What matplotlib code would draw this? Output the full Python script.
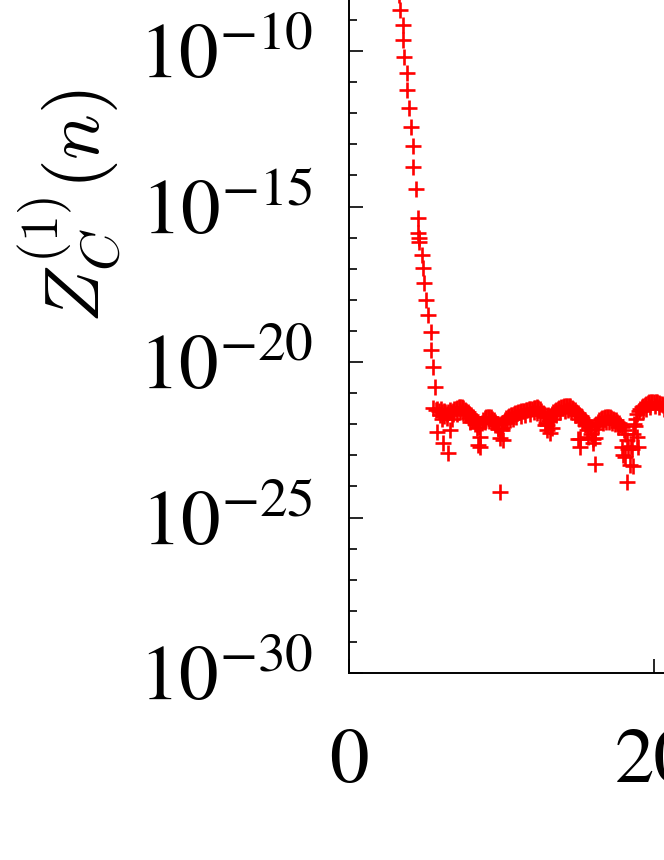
import numpy as np
import matplotlib
matplotlib.use("Agg")
import matplotlib.pyplot as plt
from matplotlib import ticker

plt.rcParams['mathtext.fontset'] = 'stix'
plt.rcParams['font.family'] = ['STIXGeneral', 'DejaVu Serif']

# ---- data: n and log10 Z_C^(1)(n) ----
decay_n = [3.05, 3.15, 3.25, 3.34, 3.52, 3.52, 3.63, 3.78, 3.78, 3.93, 4.07, 4.22, 4.22,
           4.37, 4.50, 4.55, 4.59, 4.62, 4.77, 4.87, 4.92, 5.05, 5.20, 5.36, 5.36, 5.49,
           5.64, 5.53]
decay_log = [-7.2, -7.7, -8.2, -8.68, -9.16, -9.65, -10.19, -10.71, -11.25, -11.83, -12.44,
             -13.05, -13.73, -14.44, -15.38, -15.85, -16.00, -16.15, -16.56, -16.98, -17.46,
             -18.00, -18.49, -19.04, -19.61, -20.16, -20.80, -21.49]

floor_n = [round(5.7 + 0.1 * i, 2) for i in range(154)]
floor_log = [
    -21.54, -21.50, -21.58, -21.52, -21.60, -21.56, -21.62, -21.66, -21.60, -21.55,
    -21.60, -21.56, -21.52, -21.50, -21.47, -21.45, -21.44, -21.46, -21.49, -21.53,
    -21.57, -21.62, -21.67, -21.72, -21.78, -21.84, -21.90, -21.98, -22.10, -22.40,
    -21.95, -21.85, -21.80, -21.77, -21.76, -21.76, -21.78, -21.82, -21.86, -21.92,
    -22.00, -22.15, -22.45, -22.20, -21.95, -21.85, -21.80, -21.77, -21.74, -21.72,
    -21.69, -21.67, -21.65, -21.63, -21.61, -21.60, -21.59, -21.58, -21.57, -21.55,
    -21.54, -21.52, -21.51, -21.50, -21.48, -21.47, -21.46, -21.47, -21.50, -21.56,
    -21.65, -21.78, -21.95, -22.20, -21.90, -21.75, -21.68, -21.62, -21.58, -21.54,
    -21.52, -21.49, -21.46, -21.44, -21.42, -21.41, -21.40, -21.41, -21.43, -21.47,
    -21.50, -21.55, -21.60, -21.65, -21.70, -21.75, -21.80, -21.85, -21.90, -21.95,
    -22.00, -22.10, -22.30, -22.60, -22.15, -21.98, -21.92, -21.88, -21.84, -21.81,
    -21.79, -21.78, -21.77, -21.77, -21.78, -21.80, -21.82, -21.85, -21.88, -21.92,
    -21.97, -22.03, -22.10, -22.20, -22.32, -22.50, -22.80, -23.30, -22.70, -22.30,
    -22.00, -21.82, -21.68, -21.57, -21.50, -21.44, -21.40, -21.37, -21.34, -21.32,
    -21.30, -21.29, -21.28, -21.28, -21.29, -21.30, -21.32, -21.34, -21.36, -21.39,
    -21.42, -21.45, -21.48, -21.52,
]

lower_n = [5.95, 6.25, 6.45, 6.85, 7.05, 7.25, 7.45, 7.65, 7.85, 8.05, 8.25, 8.95, 9.15,
           9.35, 9.55, 10.35, 10.55, 10.75, 10.95, 11.25, 11.55, 11.85, 12.15, 12.35, 12.55,
           13.35, 13.55, 13.85, 14.15, 14.35, 14.55, 14.85, 15.05, 15.25, 15.45, 16.35,
           16.65, 16.85, 17.05, 17.25, 17.45, 17.65, 19.25, 19.45, 19.75, 20.05, 20.35,
           20.65]
lower_log = [-21.70, -21.75, -21.80, -21.68, -21.66, -21.62, -21.64, -21.72, -21.80, -21.88,
             -22.00, -21.92, -21.90, -21.93, -22.02, -21.95, -21.88, -21.84, -21.78, -21.74,
             -21.70, -21.66, -21.62, -21.64, -21.72, -21.82, -21.72, -21.62, -21.56, -21.55,
             -21.60, -21.72, -21.82, -21.92, -22.02, -22.05, -21.96, -21.92, -21.92, -21.95,
             -22.00, -22.08, -21.58, -21.50, -21.44, -21.42, -21.46, -21.52]

dip_n = [5.75, 6.18, 6.51, 6.62, 6.08, 6.73, 7.93, 8.48, 8.37, 8.59, 9.90, 10.12, 10.01,
         9.69, 9.79, 12.85, 13.07, 12.96, 13.18, 13.29, 15.15, 15.15, 16.13, 16.02, 15.59,
         15.04, 16.13, 15.69, 17.88, 17.99, 18.10, 18.21, 18.64, 18.54, 18.87, 18.75,
         18.97]
dip_log = [-22.25, -22.62, -22.94, -22.19, -21.82, -21.82, -21.92, -22.67, -22.13, -22.72,
           -24.17, -22.51, -22.13, -22.02, -22.13, -22.02, -21.70, -22.02, -22.29, -22.13,
           -22.46, -22.73, -23.27, -22.46, -22.19, -22.46, -22.45, -22.40, -22.73, -23.00,
           -23.04, -23.85, -23.36, -22.80, -22.40, -22.05, -22.73]

# ---- figure ----
fig = plt.figure(figsize=(6.64, 8.6), dpi=100)
W, H = 664.0, 860.0
x_left_px, y_bottom_px = 349.0, 673.0
px_per_unit, px_per_dec = 15.25, 31.1
xmax, ymax_exp, ymin_exp = 40.0, -8, -30
ax = fig.add_axes([x_left_px / W, (H - y_bottom_px) / H,
                   xmax * px_per_unit / W,
                   (ymax_exp - ymin_exp) * px_per_dec / H])

all_n = decay_n + floor_n + lower_n + dip_n
all_log = decay_log + floor_log + lower_log + dip_log
ax.plot(all_n, 10.0 ** np.array(all_log), linestyle='none', marker='+',
        color='#ff0000', markersize=11, markeredgewidth=1.9)

ax.set_yscale('log')
ax.set_ylim(10.0 ** ymin_exp, 10.0 ** ymax_exp)
ax.set_xlim(0, xmax)

ax.yaxis.set_major_locator(ticker.FixedLocator([10.0 ** k for k in range(-30, -9, 5)]))
ax.yaxis.set_minor_locator(ticker.FixedLocator([10.0 ** k for k in range(-30, -7)]))
ax.yaxis.set_major_formatter(ticker.LogFormatterMathtext())
ax.yaxis.set_minor_formatter(ticker.NullFormatter())
ax.xaxis.set_major_locator(ticker.FixedLocator([0, 20, 40]))
ax.xaxis.set_major_formatter(ticker.FixedFormatter(['0', '20', '40']))
ax.xaxis.set_minor_locator(ticker.NullLocator())

ax.tick_params(axis='both', which='major', direction='in', length=10, width=1.2,
               labelsize=57, color='black')
ax.tick_params(axis='y', which='minor', direction='in', length=6, width=1.2)
ax.tick_params(axis='y', which='major', pad=26)
ax.tick_params(axis='x', which='major', pad=40)
for s in ax.spines.values():
    s.set_linewidth(1.4)

fig.text(70 / W, 1 - 206 / H, r'$Z_C^{(1)}(n)$', rotation=90, ha='center', va='center',
         fontsize=55, math_fontfamily='cm', color='black')

fig.savefig('out.png', dpi=100)
